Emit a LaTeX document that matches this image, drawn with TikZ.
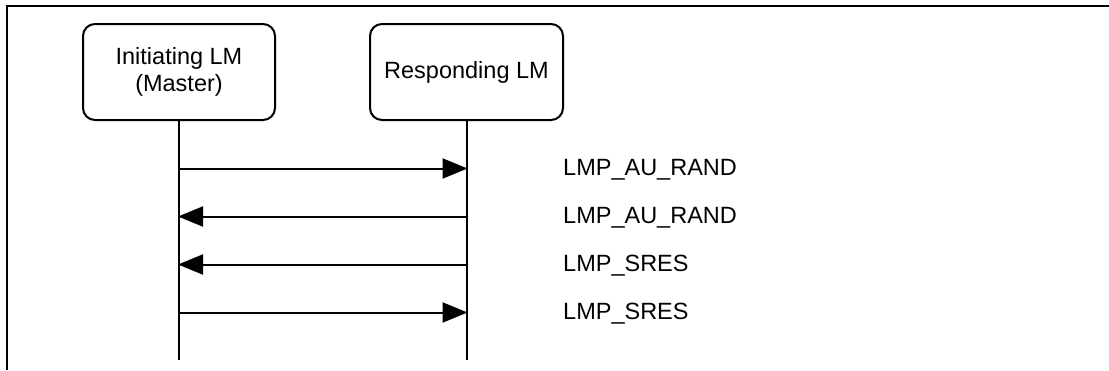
\documentclass[tikz,border=0pt]{standalone}
\usepackage{fontspec}
\setmainfont{Liberation Sans}
\usetikzlibrary{arrows.meta}
\begin{document}
\begin{tikzpicture}[x=1pt,y=-1pt,
  lmbox/.style={draw,line width=2pt,rounded corners=12pt,minimum width=192pt,minimum height=96pt,align=center,inner sep=0pt,font=\fontsize{23.5}{27}\selectfont},
  life/.style={line width=2pt},
  msg/.style={line width=2pt,-{Triangle[length=25pt,width=20pt]},shorten >=-1pt},
  lbl/.style={anchor=base west,inner sep=0pt,font=\fontsize{23.5}{27}\selectfont},
  frame/.style={line width=2pt}]
\useasboundingbox (0,0) rectangle (1109,370);
\draw[frame] (7,370) -- (7,5.5) -- (1109,5.5);
\node[lmbox] (A) at (179,72) {Initiating LM\\(Master)};
\node[lmbox,minimum width=193pt] (B) at (466.5,72) {Responding LM};
\coordinate (Aend) at (179,360);
\coordinate (Bend) at (466.5,360);
\draw[life] (A.south) -- (Aend);
\draw[life] (B.south) -- (Bend);
\coordinate (a1) at (179,168.5);
\coordinate (b1) at (466.5,168.5);
\coordinate (a2) at (179,216.5);
\coordinate (b2) at (466.5,216.5);
\coordinate (a3) at (179,264.5);
\coordinate (b3) at (466.5,264.5);
\coordinate (a4) at (179,312.5);
\coordinate (b4) at (466.5,312.5);
\draw[msg] (a1) -- (b1);
\draw[msg] (b2) -- (a2);
\draw[msg] (b3) -- (a3);
\draw[msg] (a4) -- (b4);
\node[lbl] (l1) at (563,175) {LMP\_AU\_RAND};
\node[lbl] (l2) at (563,223) {LMP\_AU\_RAND};
\node[lbl] (l3) at (563,271) {LMP\_SRES};
\node[lbl] (l4) at (563,319) {LMP\_SRES};
\end{tikzpicture}
\end{document}
